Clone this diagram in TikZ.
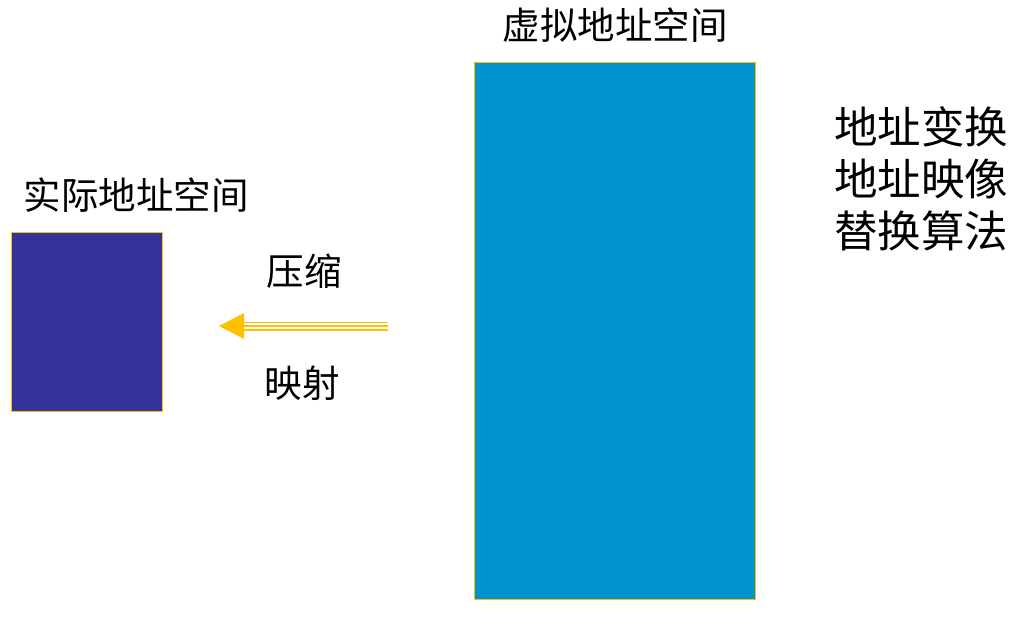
\documentclass[tikz,border=0pt]{standalone}
\usepackage{fontspec}
\newfontfamily\cjk{Noto Sans CJK SC}
\definecolor{arrowyellow}{HTML}{FFC000}
\definecolor{vblue}{HTML}{0093CE}
\definecolor{rpurple}{HTML}{333399}
\begin{document}
\begin{tikzpicture}[x=1pt,y=-1pt,
  membox/.style={draw=arrowyellow,line width=1.2pt,inner sep=0pt,anchor=north west},
  lbl/.style={font=\cjk\fontsize{37.5}{42}\selectfont,inner sep=0pt,text=black},
  biglbl/.style={font=\cjk\fontsize{43.5}{52}\selectfont,inner sep=0pt,align=left,text=black}
]
\useasboundingbox (0,0) rectangle (1026,631);
\node[membox,fill=vblue,minimum width=281pt,minimum height=537pt] (virt) at (474,62) {};
\node[membox,fill=rpurple,minimum width=151pt,minimum height=179pt] (real) at (11,232) {};
\node[lbl] (virtlbl) at (615,25) {虚拟地址空间};
\node[lbl] (reallbl) at (136,195) {实际地址空间};
\node[lbl] (ya) at (304,271) {压缩};
\node[lbl] (ys) at (302,383) {映射};
\node[biglbl] (ops) at (921,179) {地址变换\\地址映像\\替换算法};
\coordinate (as) at (388,326);
\coordinate (ab) at (244,326);
\coordinate (at) at (219,326);
\draw[arrowyellow,line width=9pt] (as) -- (ab);
\draw[white,line width=6.4pt] (as) -- ([xshift=-1pt]ab);
\draw[arrowyellow,line width=2pt] (as) -- (ab);
\fill[arrowyellow] (at) -- ([yshift=-13pt]ab) -- ([yshift=13pt]ab) -- cycle;
\end{tikzpicture}
\end{document}
